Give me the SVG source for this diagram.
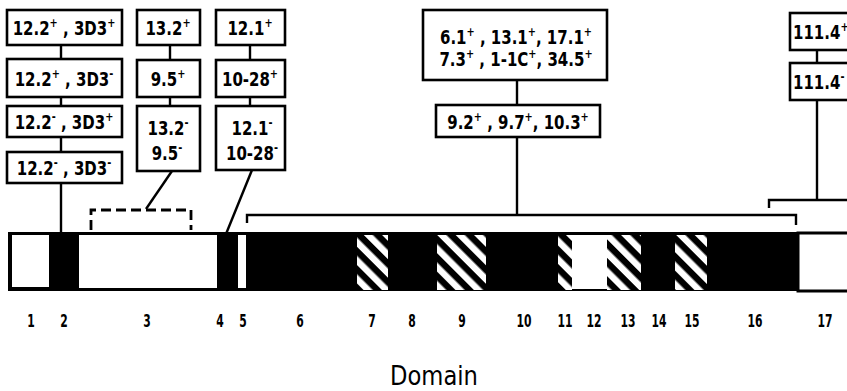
<svg xmlns="http://www.w3.org/2000/svg" width="847" height="391" viewBox="0 0 847 391">
<style>
.box{fill:#fff;stroke:#000;stroke-width:2.6}
.ln{stroke:#000;stroke-width:2.4;fill:none}
.dash{stroke:#000;stroke-width:2.8;fill:none;stroke-dasharray:10 5}
text{font-family:"DejaVu Sans",sans-serif;fill:#000}
.t{font-size:20px;font-weight:bold;text-anchor:middle}
.ts{font-size:20px;font-weight:bold;text-anchor:start}
.s{font-size:13px}
.num{font-size:18px;font-weight:bold;text-anchor:middle}
.dom{font-size:27px;text-anchor:middle}
</style>
<defs>
<pattern id="hatch" width="13" height="13" patternUnits="userSpaceOnUse" patternTransform="rotate(-45)">
<rect width="13" height="13" fill="#000"/>
<rect width="6.5" height="13" fill="#fff"/>
</pattern>
</defs>
<rect width="847" height="391" fill="#fff"/>

<g id="connectors">
<line class="ln" x1="61" y1="45" x2="61" y2="59"/>
<line class="ln" x1="61" y1="97" x2="61" y2="106"/>
<line class="ln" x1="61" y1="137" x2="61" y2="152"/>
<line class="ln" x1="61" y1="183" x2="61" y2="232"/>
<line class="ln" x1="170" y1="45" x2="170" y2="60"/>
<line class="ln" x1="170" y1="97" x2="170" y2="106"/>
<line class="ln" x1="172" y1="171" x2="146" y2="209"/>
<path class="dash" d="M91 230 V210 H191 V230"/>
<line class="ln" x1="250" y1="45" x2="250" y2="60"/>
<line class="ln" x1="250" y1="97" x2="250" y2="106"/>
<line class="ln" x1="252" y1="170" x2="226" y2="234"/>
<line class="ln" x1="517" y1="80" x2="517" y2="105"/>
<line class="ln" x1="517" y1="137" x2="517" y2="215"/>
<path class="ln" d="M247 223 V215 H796 V225"/>
<line class="ln" x1="817" y1="50" x2="817" y2="63"/>
<line class="ln" x1="817" y1="100" x2="817" y2="200"/>
<path class="ln" d="M769 208 V200 H850"/>
</g>

<g id="col1">
<g id="n-12p3p"><rect class="box" x="7" y="10" width="115" height="35"/><text class="t" transform="translate(64 35) scale(0.75 1)">12.2<tspan class="s" dy="-8">+</tspan><tspan dy="8"> , 3D3</tspan><tspan class="s" dy="-8">+</tspan></text></g>
<g id="n-12p3m"><rect class="box" x="7" y="59" width="115" height="38"/><text class="t" transform="translate(64 86) scale(0.75 1)">12.2<tspan class="s" dy="-8">+</tspan><tspan dy="8"> , 3D3</tspan><tspan class="s" dy="-8">-</tspan></text></g>
<g id="n-12m3p"><rect class="box" x="7" y="106" width="115" height="31"/><text class="t" transform="translate(64 129) scale(0.75 1)">12.2<tspan class="s" dy="-8">-</tspan><tspan dy="8"> , 3D3</tspan><tspan class="s" dy="-8">+</tspan></text></g>
<g id="n-12m3m"><rect class="box" x="7" y="152" width="115" height="31"/><text class="t" transform="translate(64 175) scale(0.75 1)">12.2<tspan class="s" dy="-8">-</tspan><tspan dy="8"> , 3D3</tspan><tspan class="s" dy="-8">-</tspan></text></g>
</g>

<g id="col2">
<g id="n-132p"><rect class="box" x="137" y="10" width="63" height="35"/><text class="t" transform="translate(168 35) scale(0.75 1)">13.2<tspan class="s" dy="-8">+</tspan></text></g>
<g id="n-95p"><rect class="box" x="137" y="60" width="63" height="37"/><text class="t" transform="translate(168 86) scale(0.75 1)">9.5<tspan class="s" dy="-8">+</tspan></text></g>
<g id="n-132m95m"><rect class="box" x="137" y="106" width="63" height="65"/><text class="t" transform="translate(168 135) scale(0.75 1)">13.2<tspan class="s" dy="-8">-</tspan></text><text class="t" transform="translate(167 160) scale(0.75 1)">9.5<tspan class="s" dy="-8">-</tspan></text></g>
</g>

<g id="col3">
<g id="n-121p"><rect class="box" x="216" y="10" width="69" height="35"/><text class="t" transform="translate(250 35) scale(0.75 1)">12.1<tspan class="s" dy="-8">+</tspan></text></g>
<g id="n-1028p"><rect class="box" x="216" y="60" width="69" height="37"/><text class="t" transform="translate(250 86) scale(0.75 1)">10-28<tspan class="s" dy="-8">+</tspan></text></g>
<g id="n-121m1028m"><rect class="box" x="216" y="106" width="69" height="64"/><text class="t" transform="translate(252 135) scale(0.75 1)">12.1<tspan class="s" dy="-8">-</tspan></text><text class="t" transform="translate(252 160) scale(0.75 1)">10-28<tspan class="s" dy="-8">-</tspan></text></g>
</g>

<g id="col4">
<g id="n-multi"><rect class="box" x="423" y="10" width="184" height="70"/><text class="t" transform="translate(516 44) scale(0.75 1)">6.1<tspan class="s" dy="-8">+</tspan><tspan dy="8"> , 13.1</tspan><tspan class="s" dy="-8">+</tspan><tspan dy="8">, 17.1</tspan><tspan class="s" dy="-8">+</tspan></text><text class="t" transform="translate(516 66) scale(0.75 1)">7.3<tspan class="s" dy="-8">+</tspan><tspan dy="8"> , 1-1C</tspan><tspan class="s" dy="-8">+</tspan><tspan dy="8">, 34.5</tspan><tspan class="s" dy="-8">+</tspan></text></g>
<g id="n-92"><rect class="box" x="436" y="105" width="164" height="32"/><text class="t" transform="translate(518 129) scale(0.75 1)">9.2<tspan class="s" dy="-8">+</tspan><tspan dy="8"> , 9.7</tspan><tspan class="s" dy="-8">+</tspan><tspan dy="8">, 10.3</tspan><tspan class="s" dy="-8">+</tspan></text></g>
</g>

<g id="col5">
<g id="n-1114p"><rect class="box" x="790" y="13" width="70" height="37"/><text class="ts" transform="translate(793 39) scale(0.75 1)">111.4<tspan class="s" dy="-8">+</tspan></text></g>
<g id="n-1114m"><rect class="box" x="790" y="63" width="70" height="37"/><text class="ts" transform="translate(793 89) scale(0.75 1)">111.4<tspan class="s" dy="-8">-</tspan></text></g>
</g>

<g id="bar">
<rect x="8" y="232" width="790" height="59" fill="#000"/>
<rect x="12" y="235" width="37" height="52" fill="#fff"/>
<rect x="79" y="235" width="138" height="53" fill="#fff"/>
<rect x="238" y="235" width="8" height="53" fill="#fff"/>
<rect x="572" y="235" width="35" height="54" fill="#fff"/>
<rect x="357" y="235" width="31" height="55" fill="url(#hatch)"/>
<rect x="437" y="235" width="49" height="55" fill="url(#hatch)"/>
<rect x="558" y="235" width="14" height="55" fill="url(#hatch)"/>
<rect x="607" y="235" width="34" height="55" fill="url(#hatch)"/>
<rect x="675" y="235" width="32" height="55" fill="url(#hatch)"/>
<rect x="798" y="233" width="60" height="58" fill="#fff" stroke="#000" stroke-width="3"/>
</g>

<g id="labels">
<text class="num" transform="translate(31 327) scale(0.6 1)">1</text>
<text class="num" transform="translate(64 327) scale(0.6 1)">2</text>
<text class="num" transform="translate(147 327) scale(0.6 1)">3</text>
<text class="num" transform="translate(220 327) scale(0.6 1)">4</text>
<text class="num" transform="translate(243 327) scale(0.6 1)">5</text>
<text class="num" transform="translate(300 327) scale(0.6 1)">6</text>
<text class="num" transform="translate(372 327) scale(0.6 1)">7</text>
<text class="num" transform="translate(412 327) scale(0.6 1)">8</text>
<text class="num" transform="translate(462 327) scale(0.6 1)">9</text>
<text class="num" transform="translate(524 327) scale(0.6 1)">10</text>
<text class="num" transform="translate(565 327) scale(0.6 1)">11</text>
<text class="num" transform="translate(594 327) scale(0.6 1)">12</text>
<text class="num" transform="translate(628 327) scale(0.6 1)">13</text>
<text class="num" transform="translate(659 327) scale(0.6 1)">14</text>
<text class="num" transform="translate(692 327) scale(0.6 1)">15</text>
<text class="num" transform="translate(755 327) scale(0.6 1)">16</text>
<text class="num" transform="translate(825 327) scale(0.6 1)">17</text>
<text class="dom" transform="translate(434 385) scale(0.84 1)">Domain</text>
</g>
</svg>
